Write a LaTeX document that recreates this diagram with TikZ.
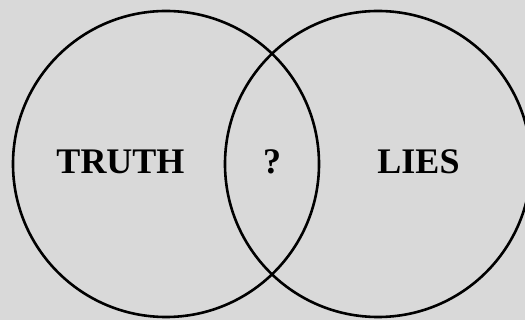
\documentclass[tikz,border=0pt]{standalone}
\usepackage{fontspec}
\setmainfont{Liberation Serif}
\definecolor{bg}{RGB}{217,217,217}
\begin{document}
\begin{tikzpicture}[x=1pt,y=-1pt,
  ring/.style={draw=black,line width=2.6pt,circle,minimum size=306pt,inner sep=0pt},
  lbl/.style={font=\bfseries\fontsize{36}{42}\selectfont,inner sep=0pt,anchor=base}]
\fill[bg] (0,0) rectangle (525,320);
\useasboundingbox (0,0) rectangle (525,320);
\begin{scope}
\clip (0,0) rectangle (525,320);
\node[ring] (truth) at (166,164) {};
\node[ring] (lies) at (378,164) {};
\end{scope}
\node[lbl] (t) at (120.5,174) {TRUTH};
\node[lbl] (q) at (272,174) {?};
\node[lbl] (l) at (418.5,174) {LIES};
\end{tikzpicture}
\end{document}
